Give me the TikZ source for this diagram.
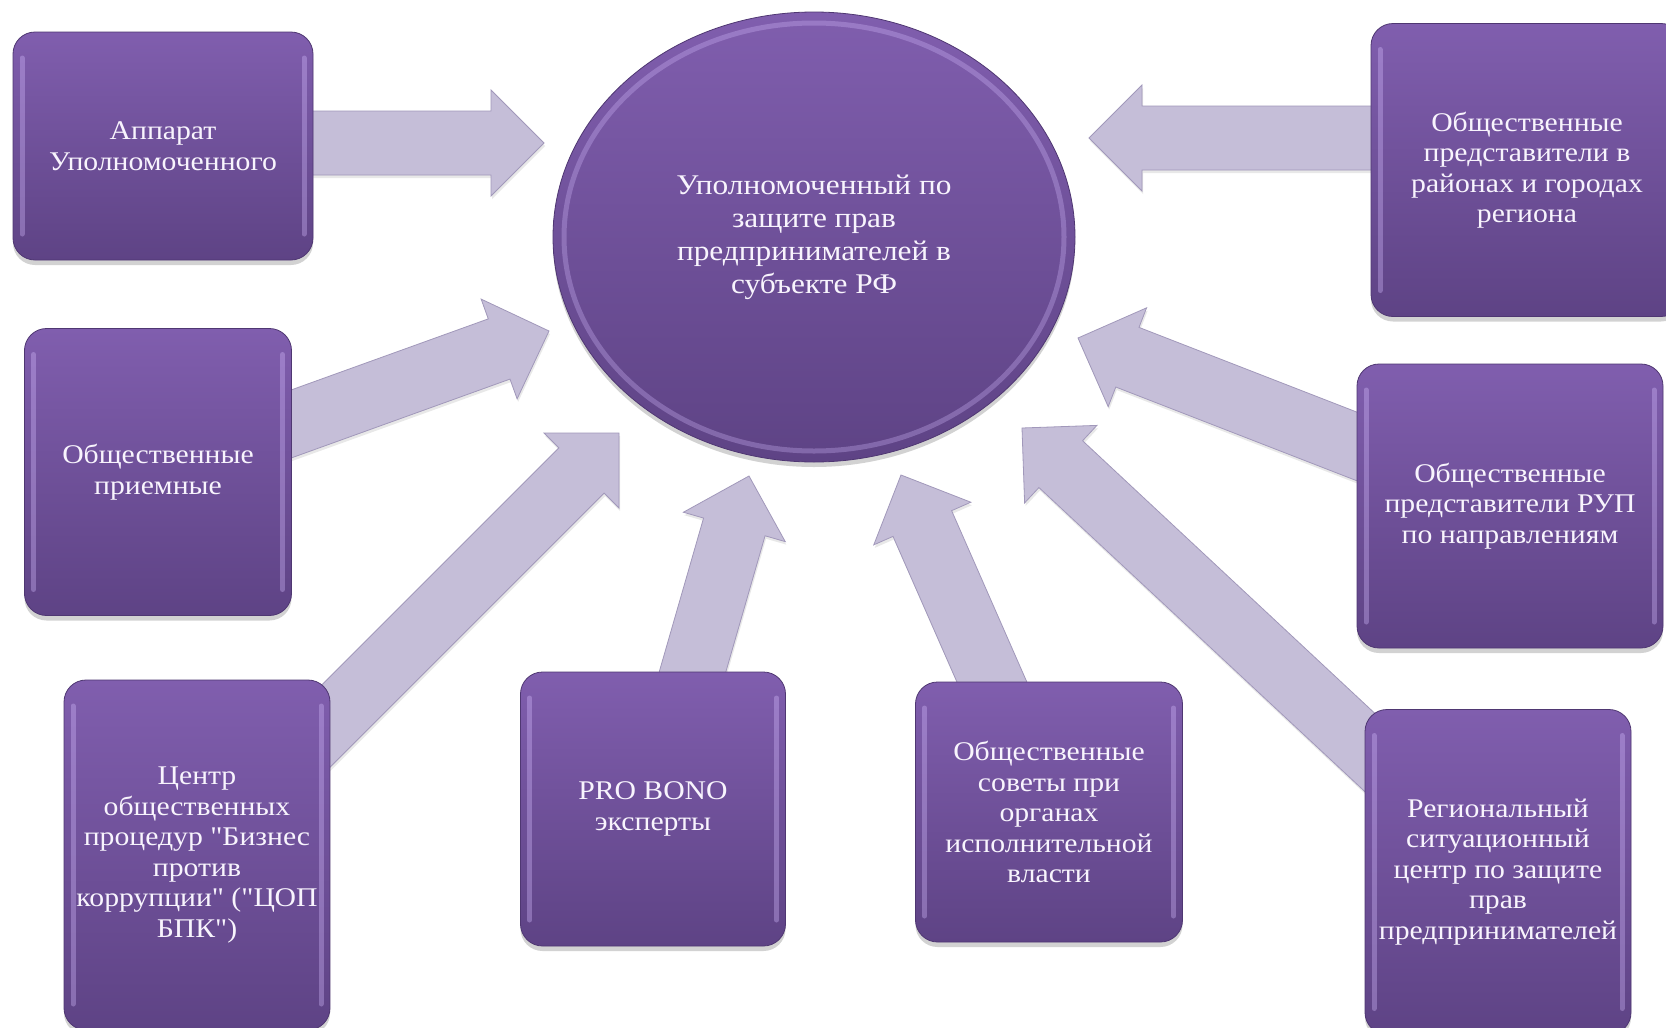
\documentclass[tikz,border=0pt]{standalone}
\usepackage{fontspec}
\setmainfont{Liberation Serif}[Ligatures=TeXOff, FakeStretch=1.1]
\usetikzlibrary{shapes.geometric,calc,shadows,backgrounds}
\definecolor{boxtop}{HTML}{805EAE}
\definecolor{boxbot}{HTML}{5E4385}
\definecolor{boxedge}{HTML}{4F3772}
\definecolor{arrfill}{HTML}{C5BED8}
\definecolor{arredge}{HTML}{A198BA}
\definecolor{hilite}{HTML}{D6BEFF}
\definecolor{txt}{HTML}{F8F4FD}
\tikzset{
  box/.style={rectangle, rounded corners=22pt, top color=boxtop, bottom color=boxbot,
    draw=boxedge, line width=0.8pt, text=txt, align=center, inner sep=0pt,
    font=\fontsize{27pt}{30.5pt}\selectfont,
    drop shadow={opacity=0.35, shadow xshift=0pt, shadow yshift=-5pt},
    path picture={
      \draw[hilite, line width=5pt, opacity=.35, line cap=round]
        ([shift={(9pt,-26pt)}]path picture bounding box.north west) -- ([shift={(9pt,26pt)}]path picture bounding box.south west)
        ([shift={(-9pt,-26pt)}]path picture bounding box.north east) -- ([shift={(-9pt,26pt)}]path picture bounding box.south east);
    }},
  hub/.style={ellipse, top color=boxtop, bottom color=boxbot, draw=boxedge, line width=0.8pt,
    text=txt, align=center, inner sep=0pt,
    font=\fontsize{28.5pt}{33pt}\selectfont,
    drop shadow={opacity=0.35, shadow xshift=0pt, shadow yshift=-5pt},
    path picture={
      \draw[hilite, line width=5pt, opacity=.3]
        (path picture bounding box.center) ellipse [x radius=250pt, y radius=214pt];
    }},
  fatarr/.style={fill=arrfill, draw=arredge, line width=0.8pt, line join=miter,
    drop shadow={opacity=0.18, shadow xshift=1pt, shadow yshift=-3pt}}
}
% #1 start (node/coordinate name), #2 tip (coordinate name)
\newcommand{\bigArrowShape}[2]{%
  \coordinate (hb) at ($(#2)!53pt!(#1)$);
  \draw[fatarr] ($(#1)!32pt!90:(#2)$) -- ($(hb)!32pt!-90:(#1)$) -- ($(hb)!53pt!-90:(#1)$)
    -- (#2) -- ($(hb)!53pt!90:(#1)$) -- ($(hb)!32pt!90:(#1)$) -- ($(#1)!32pt!-90:(#2)$) -- cycle;
}
\begin{document}
\begin{tikzpicture}[x=1pt,y=-1pt]
\useasboundingbox (0,0) rectangle (1666,1028);
\clip (0,0) rectangle (1666,1028);

% hub
\node[hub, minimum width=522pt, minimum height=450pt] (hub) at (814,237)
  {Уполномоченный по\\защите прав\\предпринимателей в\\субъекте РФ};

% boxes
\node[box, minimum width=300pt, minimum height=228pt] (b1) at (163,146)
  {Аппарат\\Уполномоченного};
\node[box, minimum width=312pt, minimum height=293pt] (tr) at (1527,170)
  {Общественные\\представители в\\районах и городах\\региона};
\node[box, minimum width=267pt, minimum height=287pt] (b2) at (158,472)
  {Общественные\\приемные};
\node[box, minimum width=266pt, minimum height=350pt] (b3) at (197,855)
  {Центр\\общественных\\процедур "Бизнес\\против\\коррупции" ("ЦОП\\БПК")};
\node[box, minimum width=265pt, minimum height=274pt] (pb) at (653,809)
  {PRO BONO\\эксперты};
\node[box, minimum width=267pt, minimum height=260pt] (sov) at (1049,812)
  {Общественные\\советы при\\органах\\исполнительной\\власти};
\node[box, minimum width=306pt, minimum height=284pt] (rup) at (1510,506)
  {Общественные\\представители РУП\\по направлениям};
\node[box, minimum width=266pt, minimum height=325pt] (reg) at (1498,872)
  {Региональный\\ситуационный\\центр по защите\\прав\\предпринимателей};

% arrow tips (free ends next to the hub)
\coordinate (t1) at (544,143);
\coordinate (t2) at (549,331);
\coordinate (t3) at (619,433);
\coordinate (t4) at (749,476);
\coordinate (t5) at (901,475);
\coordinate (t6) at (1078,338);
\coordinate (t7) at (1022,428);
\coordinate (t8) at (1089,138);
\coordinate (s1) at (b1.center |- t1);
\coordinate (s8) at (tr.center |- t8);

\begin{scope}[on background layer]
  \fill[white] (0,0) rectangle (1666,1028);
  \bigArrowShape{s1}{t1}
  \bigArrowShape{b2}{t2}
  \bigArrowShape{b3}{t3}
  \bigArrowShape{pb}{t4}
  \bigArrowShape{sov}{t5}
  \bigArrowShape{rup}{t6}
  \bigArrowShape{reg}{t7}
  \bigArrowShape{s8}{t8}
\end{scope}
\end{tikzpicture}
\end{document}
